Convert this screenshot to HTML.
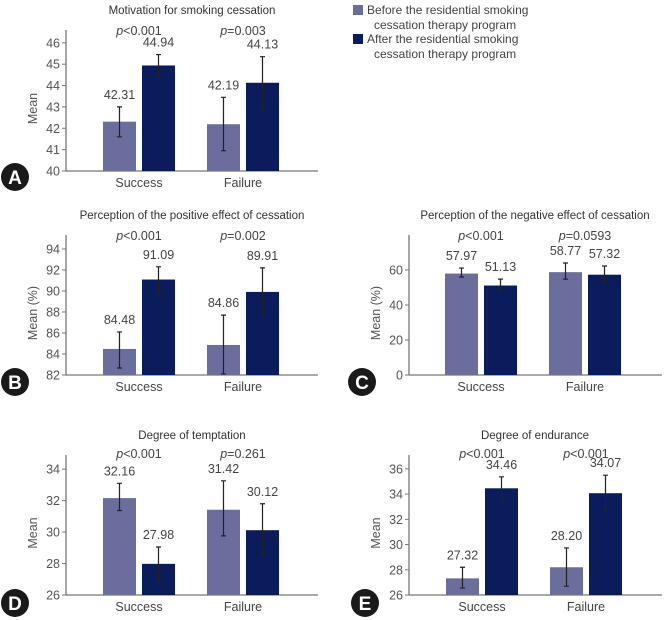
<!DOCTYPE html>
<html><head><meta charset="utf-8">
<style>
html,body{margin:0;padding:0;background:#fff;}
svg{display:block;font-family:"Liberation Sans",sans-serif;}
</style></head>
<body>
<svg id="chart" width="665" height="620" viewBox="0 0 665 620">
  <g>
    <rect x="353" y="5" width="10" height="10" fill="#6b6e9c"/>
    <text x="367" y="14" font-size="12" fill="#444">Before the residential smoking</text>
    <text x="374" y="29" font-size="12" fill="#444">cessation therapy program</text>
    <rect x="353" y="34" width="10" height="10" fill="#0b1c5c"/>
    <text x="367" y="43" font-size="12" fill="#444">After the residential smoking</text>
    <text x="374" y="58" font-size="12" fill="#444">cessation therapy program</text>
  </g>
</svg>
<script>
const categories = ["Success", "Failure"];
const panelTitles = ["Motivation for smoking cessation","Perception of the positive effect of cessation","Perception of the negative effect of cessation","Degree of temptation","Degree of endurance"];
const panelLetters = ["A","B","C","D","E"];
const yLabels = ["Mean","Mean (%)","Mean (%)","Mean","Mean"];
const pValues = [["p<0.001","p=0.003"],["p<0.001","p=0.002"],["p<0.001","p=0.0593"],["p<0.001","p=0.261"],["p<0.001","p<0.001"]];
const beforeValues = [[42.31,42.19],[84.48,84.86],[57.97,58.77],[32.16,31.42],[27.32,28.20]];
const afterValues = [[44.94,44.13],[91.09,89.91],[51.13,57.32],[27.98,30.12],[34.46,34.07]];
const beforeLabels = [["42.31","42.19"],["84.48","84.86"],["57.97","58.77"],["32.16","31.42"],["27.32","28.20"]];
const afterLabels = [["44.94","44.13"],["91.09","89.91"],["51.13","57.32"],["27.98","30.12"],["34.46","34.07"]];
const beforeErrLow = [[41.6,40.95],[82.67,82.1],[56,54.8],[31.37,29.76],[26.55,26.7]];
const beforeErrHigh = [[43.0,43.45],[86.1,87.7],[61.1,64],[33.1,33.26],[28.2,29.73]];
const afterErrLow = [[44.4,42.9],[89.7,87.7],[48.6,53],[26.9,28.55],[33.46,32.67]];
const afterErrHigh = [[45.45,45.35],[92.3,92.2],[54.8,62.3],[29.05,31.8],[35.37,35.5]];
const yTicks = [[40,41,42,43,44,45,46],[82,84,86,88,90,92,94],[0,20,40,60],[26,28,30,32,34],[26,28,30,32,34,36]];
const yMin = [40,82,0,26,26];
const yMax = [46.6,95.33,80,34.9,37.1];

const NS = "http://www.w3.org/2000/svg";
const svg = document.getElementById("chart");
const layout = [
  {ax:66, x0:103, top:30, bottom:171, right:318, cx:192, titleY:14, pY:35, catY:187, badge:[15,177], ylx:37},
  {ax:66, x0:103, top:235, bottom:375, right:318, cx:192, titleY:219, pY:240, catY:391, badge:[15,382], ylx:37},
  {ax:409, x0:445, top:235, bottom:375, right:662, cx:535, titleY:219, pY:240, catY:391, badge:[362,382], ylx:380},
  {ax:66, x0:103, top:455, bottom:595, right:318, cx:192, titleY:439, pY:458, catY:611, badge:[15,603], ylx:37},
  {ax:409, x0:446, top:455, bottom:595, right:662, cx:535, titleY:439, pY:458, catY:611, badge:[365,603], ylx:380}
];
function mk(tag, attrs, parent){const e=document.createElementNS(NS,tag);for(const k in attrs)e.setAttribute(k,attrs[k]);(parent||svg).appendChild(e);return e;}

for(let p=0;p<5;p++){
  const L=layout[p];
  const g=mk("g",{});
  
  
  const y=v=>L.bottom-(v-yMin[p])/(yMax[p]-yMin[p])*(L.bottom-L.top);
  const t=mk("text",{x:L.cx,y:L.titleY,"font-size":11.5,"text-anchor":"middle",fill:"#333"},g);
  t.textContent=panelTitles[p];
  
  
  const ya=mk("line",{x1:L.ax,y1:L.top,x2:L.ax,y2:L.bottom,stroke:"#777","stroke-width":1.3},g);
  
  
  const xa=mk("line",{x1:L.ax,y1:L.bottom,x2:L.right,y2:L.bottom,stroke:"#777","stroke-width":1.3},g);
  
  
  for(const tv of yTicks[p]){
    const ty=y(tv);
    const tk=mk("line",{x1:L.ax-4,y1:ty,x2:L.ax,y2:ty,stroke:"#777","stroke-width":1},g);
    
    
    const tl=mk("text",{x:L.ax-6,y:ty+4.5,"font-size":12.5,"text-anchor":"end",fill:"#555"},g);
    tl.textContent=tv;
    
    
  }
  const yl=mk("text",{x:L.ylx,y:(L.top+L.bottom)/2+8,"font-size":12.5,"text-anchor":"middle",fill:"#555",transform:`rotate(-90 ${L.ylx} ${(L.top+L.bottom)/2+8})`},g);
  yl.textContent=yLabels[p];
  
  
  const bc=mk("circle",{cx:L.badge[0],cy:L.badge[1],r:14,fill:"#1a1a1a"},g);
  
  
  const bt=mk("text",{x:L.badge[0],y:L.badge[1]+7,"font-size":19,"font-weight":"bold","text-anchor":"middle",fill:"#fff"},g);
  bt.textContent=panelLetters[p];
  
  
  for(let c=0;c<2;c++){
    const gx=L.x0+c*104;
    const series=[
      {v:beforeValues[p][c],lab:beforeLabels[p][c],lo:beforeErrLow[p][c],hi:beforeErrHigh[p][c],fill:"#6b6e9c",x:gx,n:"before"},
      {v:afterValues[p][c],lab:afterLabels[p][c],lo:afterErrLow[p][c],hi:afterErrHigh[p][c],fill:"#0b1c5c",x:gx+39,n:"after"}
    ];
    for(const s of series){
      const by=y(s.v);
      const r=mk("rect",{x:s.x,y:by,width:33,height:L.bottom-by,fill:s.fill},g);
      
      
      const mx=s.x+16.5;
      const e=mk("path",{d:`M${mx},${y(s.hi)}V${y(s.lo)}M${mx-2.5},${y(s.hi)}H${mx+2.5}M${mx-2.5},${y(s.lo)}H${mx+2.5}`,stroke:"#222","stroke-width":1.2,fill:"none"},g);
      
      
      const vl=mk("text",{x:mx,y:y(s.hi)-8,"font-size":12.5,"text-anchor":"middle",fill:"#444"},g);
      vl.textContent=s.lab;
      
      
    }
    const pv=mk("text",{x:gx+36,y:L.pY,"font-size":12.5,"text-anchor":"middle",fill:"#444"},g);
    const pvStr=pValues[p][c];
    const it=mk("tspan",{"font-style":"italic"},pv); it.textContent="p";
    const rest=mk("tspan",{},pv); rest.textContent=pvStr.slice(1);
    
    
    const cl=mk("text",{x:gx+36,y:L.catY,"font-size":12.5,"text-anchor":"middle",fill:"#444"},g);
    cl.textContent=categories[c];
    
    
  }
}
</script>
</body></html>
